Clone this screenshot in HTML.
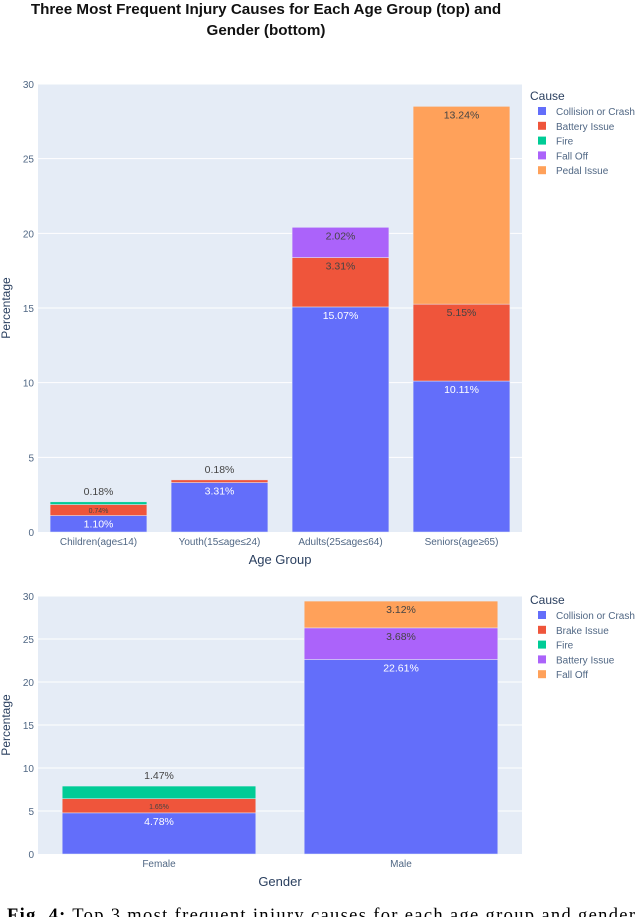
<!DOCTYPE html>
<html><head><meta charset="utf-8"><style>
body{margin:0;background:#fff;width:640px;height:917px;overflow:hidden}
svg{display:block;font-family:"Liberation Sans",sans-serif}
</style></head><body>
<svg id="s" width="640" height="917" viewBox="0 0 640 917">
<text x="266" y="14" text-anchor="middle" font-size="15.2" font-weight="bold" fill="#111">Three Most Frequent Injury Causes for Each Age Group (top) and</text>
<text x="266" y="35" text-anchor="middle" font-size="15.2" font-weight="bold" fill="#111">Gender (bottom)</text>
<text x="7" y="921" font-family="Liberation Serif,serif" font-size="18.5" fill="#000" textLength="628"><tspan font-weight="bold">Fig. 4:</tspan> Top 3 most frequent injury causes for each age group and gender</text>
</svg>
<script>
const ageCats=["Children(age≤14)","Youth(15≤age≤24)","Adults(25≤age≤64)","Seniors(age≥65)"];
const ageCauses=["Collision or Crash","Battery Issue","Fire","Fall Off","Pedal Issue"];
const ageCollision=[1.10,3.31,15.07,10.11];
const ageBattery=[0.74,0.18,3.31,5.15];
const ageFire=[0.18,0,0,0];
const ageFallOff=[0,0,2.02,0];
const agePedal=[0,0,0,13.24];
const genCats=["Female","Male"];
const genCauses=["Collision or Crash","Brake Issue","Fire","Battery Issue","Fall Off"];
const genCollision=[4.78,22.61];
const genBrake=[1.65,0];
const genFire=[1.47,0];
const genBattery=[0,3.68];
const genFallOff=[0,3.12];
const yTicks=[0,5,10,15,20,25,30];

const C={blue:"#636efa",red:"#ef553b",green:"#00cc96",purple:"#ab63fa",orange:"#ffa15a"};
const svg=document.getElementById('s');
const NS="http://www.w3.org/2000/svg";
function el(t,a,p){const e=document.createElementNS(NS,t);for(const k in a)e.setAttribute(k,a[k]);(p||svg).appendChild(e);return e;}
function txt(s,a,p){const e=el('text',a,p);e.textContent=s;return e;}

function chart(o){
  const g=el('g',{});
  
  
  const y=v=>o.y0-(v/30)*(o.y0-o.y30);
  const bw=(o.x1-o.x0)/o.cats.length;
  const x=i=>o.x0+bw*(i+0.1);
  const bg=el('rect',{x:o.x0,y:o.y30,width:o.x1-o.x0,height:o.y0-o.y30,fill:"#e5ecf6"},g);
  
  
  yTicks.forEach(t=>{
    if(t>0)el('line',{x1:o.x0,x2:o.x1,y1:y(t),y2:y(t),stroke:"#fff","stroke-width":1},g);
    const tl=txt(String(t),{x:o.x0-4,y:y(t)+4,"text-anchor":"end","font-size":10,fill:"#506784"},g);
    
    
  });
  o.cats.forEach((c,i)=>{
    let base=0;
    const lastIdx=o.series.reduce((m,s,si)=>s.vals[i]?si:m,-1);
    o.series.forEach((s,si)=>{
      const v=s.vals[i];if(!v)return;
      const r=el('rect',{x:x(i),y:y(base+v),width:bw*0.8,height:y(base)-y(base+v),fill:s.color,stroke:"#e5ecf6","stroke-width":0.5},g);
      
      
      const h=y(base)-y(base+v);
      let ly,fs=10.5,fill="#444";
      if(h>16){ly=y(base+v)+12;if(si==0)fill="#fff";}
      else if(si==lastIdx){ly=y(base+v)-7;}
      else if(h>9){ly=y(base+v)+h/2+3;fs=7;}
      else {ly=y(base+v)-7;}
      const lt=txt(v.toFixed(2)+"%",{x:x(i)+bw*0.4,y:ly,"text-anchor":"middle","font-size":fs,fill:fill},g);
      
      
      base+=v;
    });
    const xl=txt(c,{x:x(i)+bw*0.4,y:o.y0+13,"text-anchor":"middle","font-size":10,fill:"#506784"},g);
    
    
  });
  const xt=txt(o.xTitle,{x:(o.x0+o.x1)/2,y:o.y0+32,"text-anchor":"middle","font-size":13,fill:"#2a3f5f"},g);
  
  
  const yt=txt("Percentage",{x:0,y:0,"text-anchor":"middle","font-size":12,fill:"#2a3f5f",transform:`translate(10,${(o.y0+o.y30)/2}) rotate(-90)`},g);
  
  
  const lt=txt("Cause",{x:530,y:o.ly,"font-size":12,fill:"#2a3f5f"},g);
  
  
  o.legend.forEach((n,i)=>{
    const ey=o.ly+14+i*14.8;
    const sq=el('rect',{x:538,y:ey-7,width:8,height:8,fill:o.lcolors[i]},g);
    
    
    const t=txt(n,{x:556,y:ey+1,"font-size":10,fill:"#506784"},g);
    
    
  });
}
chart({name:"age-group-chart",cats:ageCats,x0:38,x1:522,y0:532,y30:84,xTitle:"Age Group",ly:100,
  series:[{key:"collision",vals:ageCollision,color:C.blue},{key:"battery",vals:ageBattery,color:C.red},{key:"fire",vals:ageFire,color:C.green},{key:"falloff",vals:ageFallOff,color:C.purple},{key:"pedal",vals:agePedal,color:C.orange}],
  legend:ageCauses,lcolors:[C.blue,C.red,C.green,C.purple,C.orange]});
chart({name:"gender-chart",cats:genCats,x0:38,x1:522,y0:854,y30:596,xTitle:"Gender",ly:604,
  series:[{key:"collision",vals:genCollision,color:C.blue},{key:"brake",vals:genBrake,color:C.red},{key:"fire",vals:genFire,color:C.green},{key:"battery",vals:genBattery,color:C.purple},{key:"falloff",vals:genFallOff,color:C.orange}],
  legend:genCauses,lcolors:[C.blue,C.red,C.green,C.purple,C.orange]});
</script>
</body></html>
